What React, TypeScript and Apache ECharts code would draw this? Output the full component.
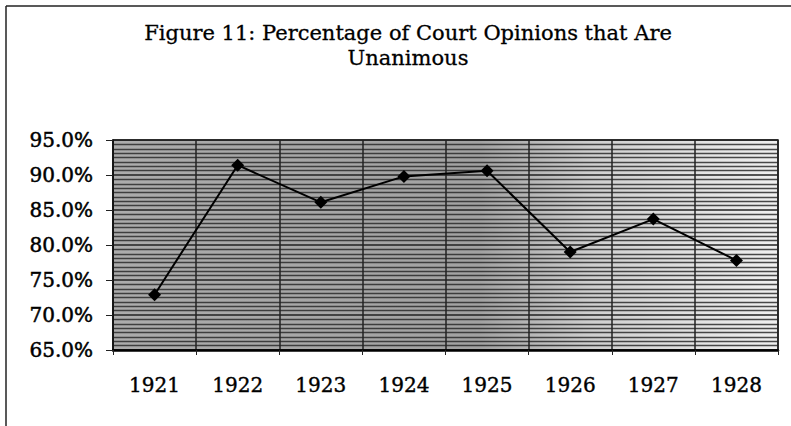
import React, { useEffect, useRef } from "react";
import * as echarts from "echarts";

const titleLines = ["Figure 11: Percentage of Court Opinions that Are", "Unanimous"];
const years = ["1921", "1922", "1923", "1924", "1925", "1926", "1927", "1928"];
const unanimousPct = [72.9, 91.4, 86.1, 89.8, 90.6, 79.0, 83.7, 77.8];
const yMin = 65;
const yMax = 95;
const yStep = 5;

const SERIF = "'DejaVu Serif', 'Liberation Serif', serif";

export default function App() {
  const ref = useRef<HTMLDivElement>(null);
  useEffect(() => {
    if (!ref.current) return;
    const chart = echarts.init(ref.current, null, { renderer: "svg" });
    chart.setOption({
      animation: false,
      backgroundColor: "#ffffff",
      title: {
        text: titleLines.join("\n"),
        left: 403,
        top: 15,
        textAlign: "center",
        textStyle: {
          fontFamily: SERIF,
          fontSize: 21,
          fontWeight: "normal",
          color: "#000",
          lineHeight: 25,
          textBorderColor: "#000",
          textBorderWidth: 0.3,
        },
      },
      graphic: [
        { type: "line", shape: { x1: 6, y1: 6, x2: 791, y2: 6 }, style: { stroke: "#222", lineWidth: 1.5 } },
        { type: "line", shape: { x1: 6, y1: 6, x2: 6, y2: 426 }, style: { stroke: "#222", lineWidth: 1.5 } },
      ],
      grid: {
        left: 113,
        right: 13,
        top: 140,
        bottom: 76,
        show: true,
        borderColor: "#111",
        borderWidth: 1.5,
        backgroundColor: new echarts.graphic.LinearGradient(0, 0, 1, 0, [
          { offset: 0, color: "#acacac" },
          { offset: 0.55, color: "#a2a2a2" },
          { offset: 0.72, color: "#cfcfcf" },
          { offset: 1, color: "#f0f0f0" },
        ]),
      },
      xAxis: {
        type: "category",
        data: years,
        boundaryGap: true,
        axisLine: { show: true, lineStyle: { color: "#000", width: 2.5 } },
        axisTick: { show: true, length: 5, lineStyle: { color: "#222" } },
        axisLabel: {
          fontFamily: SERIF,
          fontSize: 20,
          color: "#000",
          margin: 25,
          textBorderColor: "#000",
          textBorderWidth: 0.4,
        },
        splitLine: { show: true, lineStyle: { color: "#222", width: 1.5 } },
      },
      yAxis: {
        type: "value",
        min: yMin,
        max: yMax,
        interval: yStep,
        axisLine: { show: true, lineStyle: { color: "#111", width: 1.5 } },
        axisTick: { show: true, length: 7, lineStyle: { color: "#222" } },
        axisLabel: {
          fontFamily: SERIF,
          fontSize: 20,
          color: "#000",
          margin: 20,
          textBorderColor: "#000",
          textBorderWidth: 0.5,
          formatter: (v: number) => v.toFixed(1) + "%",
        },
        splitLine: { show: true, lineStyle: { color: "#222", width: 1.5 } },
        minorTick: { show: false, splitNumber: 8 },
        minorSplitLine: { show: true, lineStyle: { color: "#2a2a2a", width: 1.3, opacity: 0.85 } },
      },
      series: [
        {
          type: "line",
          data: unanimousPct,
          symbol: "diamond",
          symbolSize: 13,
          itemStyle: { color: "#000" },
          lineStyle: { color: "#000", width: 2 },
        },
      ],
    });
    return () => chart.dispose();
  }, []);
  return (
    <div
      ref={ref}
      style={{ position: "absolute", left: 0, top: 0, width: 791, height: 426 }}
    />
  );
}
